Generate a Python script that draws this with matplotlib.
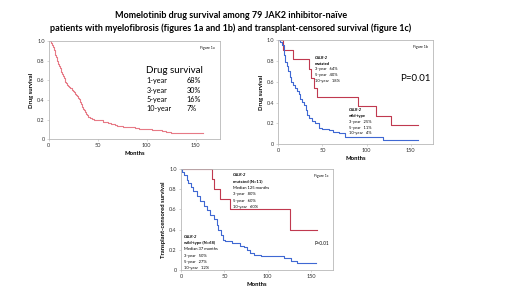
import matplotlib
matplotlib.use('Agg')
from matplotlib import pyplot as plt

plt.rcParams['font.family'] = ['Lato', 'DejaVu Sans']

# figure 1a - all patients
t_all = [0, 2, 3, 4, 5, 6, 7, 8, 9, 10, 11, 12, 13, 14, 15, 16, 17, 18, 19, 20, 21, 22, 24, 25,
         26, 27, 28, 29, 30, 31, 32, 33, 34, 35, 36, 37, 38, 39, 40, 42, 44, 46, 55, 60, 64, 68,
         70, 73, 76, 88, 92, 105, 110, 116, 120, 125, 158]
s_all = [1.0, 0.975, 0.962, 0.937, 0.91, 0.86, 0.835, 0.80, 0.77, 0.74, 0.72, 0.68, 0.66, 0.64,
         0.62, 0.60, 0.585, 0.57, 0.555, 0.54, 0.53, 0.52, 0.505, 0.49, 0.48, 0.465, 0.45, 0.435,
         0.42, 0.405, 0.38, 0.355, 0.33, 0.31, 0.30, 0.28, 0.26, 0.245, 0.23, 0.215, 0.205, 0.195,
         0.175, 0.165, 0.16, 0.15, 0.14, 0.13, 0.12, 0.11, 0.10, 0.095, 0.09, 0.08, 0.075, 0.065,
         0.065]
rates_1a = [('1-year', '68%'), ('3-year', '30%'), ('5-year', '16%'), ('10-year', '7%')]

# figure 1b - CALR mutated vs wild-type (drug survival)
t_mut_b = [0, 5, 17, 35, 37, 40, 44, 90, 111, 128, 158]
s_mut_b = [1.0, 0.909, 0.818, 0.727, 0.636, 0.545, 0.455, 0.364, 0.273, 0.182, 0.182]
t_wt_b = [0, 2, 4, 6, 8, 10, 11.5, 13.5, 15, 17, 19, 21, 23, 25, 27, 29, 31, 33, 35, 38, 42,
          46, 50, 58, 62, 69, 75, 118, 158]
s_wt_b = [1.0, 0.98, 0.955, 0.86, 0.79, 0.75, 0.70, 0.65, 0.60, 0.57, 0.54, 0.51, 0.48, 0.44,
          0.41, 0.38, 0.33, 0.28, 0.25, 0.22, 0.20, 0.155, 0.15, 0.14, 0.12, 0.11, 0.065, 0.045,
          0.045]

# figure 1c - transplant-censored survival
t_mut_c = [0, 35.6, 37.6, 44.6, 56, 126, 157]
s_mut_c = [1.0, 0.9, 0.8, 0.7, 0.6, 0.4, 0.4]
t_wt_c = [0, 1.5, 4, 6.6, 8.5, 11, 14, 18, 22, 26, 30, 34, 37.6, 41.5, 43, 46, 48.5, 51, 59, 63,
          68.6, 72.5, 76, 80, 84, 92, 119, 127, 134, 156]
s_wt_c = [1.0, 0.97, 0.94, 0.89, 0.865, 0.825, 0.78, 0.73, 0.68, 0.63, 0.59, 0.545, 0.50, 0.445,
          0.40, 0.35, 0.30, 0.29, 0.27, 0.265, 0.24, 0.225, 0.20, 0.17, 0.15, 0.14, 0.115, 0.09,
          0.07, 0.07]

pink = '#e77a86'
red = '#c0394f'
blue = '#3f68d3'
grey = '#b8b8b8'


def style(ax, ylabel):
    ax.set_xlim(0, 175)
    ax.set_ylim(0, 1.0)
    ax.set_xticks([0, 50, 100, 150])
    ax.set_yticks([0, 0.2, 0.4, 0.6, 0.8, 1.0])
    ax.set_yticklabels(['0', '0.2', '0.4', '0.6', '0.8', '1.0'])
    for sp in ax.spines.values():
        sp.set_color(grey)
        sp.set_linewidth(0.6)
    ax.tick_params(labelsize=4, length=1.5, width=0.4, color=grey, pad=1.5, labelcolor='#333333')
    ax.set_xlabel('Months', fontsize=4.2, fontweight='bold', labelpad=2)
    ax.set_ylabel(ylabel, fontsize=4.2, fontweight='bold', labelpad=2)


fig = plt.figure(figsize=(5.2, 2.92), dpi=100)

fig.text(0.444, 0.948, 'Momelotinib drug survival among 79 JAK2 inhibitor-naïve',
         ha='center', va='center', fontsize=6.5, fontweight='bold')
fig.text(0.444, 0.905, 'patients with myelofibrosis (figures 1a and 1b) and transplant-censored survival (figure 1c)',
         ha='center', va='center', fontsize=6.5, fontweight='bold')

# 1a
ax1 = fig.add_axes([0.094, 0.523, 0.329, 0.337])
ax1.step(t_all, s_all, where='post', color=pink, lw=0.8)
style(ax1, 'Drug survival')
ax1.text(0.97, 0.95, 'Figure 1a', transform=ax1.transAxes, ha='right', va='top', fontsize=2.5)
ax1.text(0.57, 0.70, 'Drug survival', transform=ax1.transAxes, fontsize=7, va='center')
for i, (yr, pct) in enumerate(rates_1a):
    yy = 0.595 - i * 0.095
    ax1.text(0.57, yy, yr, transform=ax1.transAxes, fontsize=5.2, va='center')
    ax1.text(0.805, yy, pct, transform=ax1.transAxes, fontsize=5.2, va='center')

# 1b
ax2 = fig.add_axes([0.535, 0.506, 0.2975, 0.356])
ax2.step(t_mut_b, s_mut_b, where='post', color=red, lw=0.8, zorder=2)
ax2.step(t_wt_b, s_wt_b, where='post', color=blue, lw=0.8, zorder=2)
style(ax2, 'Drug survival')
ax2.text(0.97, 0.95, 'Figure 1b', transform=ax2.transAxes, ha='right', va='top', fontsize=2.5)
ax2.text(0.79, 0.63, 'P=0.01', transform=ax2.transAxes, fontsize=7, va='center')
mut_b = ['CALR-2', 'mutated', '3-year   64%', '5-year   40%', '10-year   18%']
for i, s in enumerate(mut_b):
    ax2.text(0.235, 0.83 - i * 0.055, s, transform=ax2.transAxes, fontsize=2.9, va='center',
             fontweight='bold' if i < 2 else 'normal', style='italic' if i == 0 else 'normal')
wt_b = ['CALR-2', 'wild-type', '3-year   25%', '5-year   11%', '10-year   4%']
for i, s in enumerate(wt_b):
    ax2.text(0.455, 0.325 - i * 0.055, s, transform=ax2.transAxes, fontsize=2.9, va='center',
             fontweight='bold' if i < 2 else 'normal', style='italic' if i == 0 else 'normal')

# 1c
ax3 = fig.add_axes([0.348, 0.0753, 0.292, 0.346])
ax3.step(t_mut_c, s_mut_c, where='post', color=red, lw=0.8, zorder=2)
ax3.step(t_wt_c, s_wt_c, where='post', color=blue, lw=0.8, zorder=2)
style(ax3, 'Transplant-censored survival')
ax3.text(0.97, 0.95, 'Figure 1c', transform=ax3.transAxes, ha='right', va='top', fontsize=2.5)
ax3.text(0.88, 0.26, 'P=0.01', transform=ax3.transAxes, fontsize=3.3, va='center')
mut_c = ['CALR-2', 'mutated (N=11)', 'Median 125 months', '3-year   80%', '5-year   60%', '10-year   60%']
for i, s in enumerate(mut_c):
    ax3.text(0.34, 0.94 - i * 0.063, s, transform=ax3.transAxes, fontsize=3.0, va='center',
             fontweight='bold' if i < 2 else 'normal', style='italic' if i == 0 else 'normal')
wt_c = ['CALR-2', 'wild-type (N=68)', 'Median 37 months', '3-year   50%', '5-year   27%', '10-year   12%']
for i, s in enumerate(wt_c):
    ax3.text(0.02, 0.33 - i * 0.063, s, transform=ax3.transAxes, fontsize=3.0, va='center',
             fontweight='bold' if i < 2 else 'normal', style='italic' if i == 0 else 'normal')

fig.savefig('out.png', dpi=100)
